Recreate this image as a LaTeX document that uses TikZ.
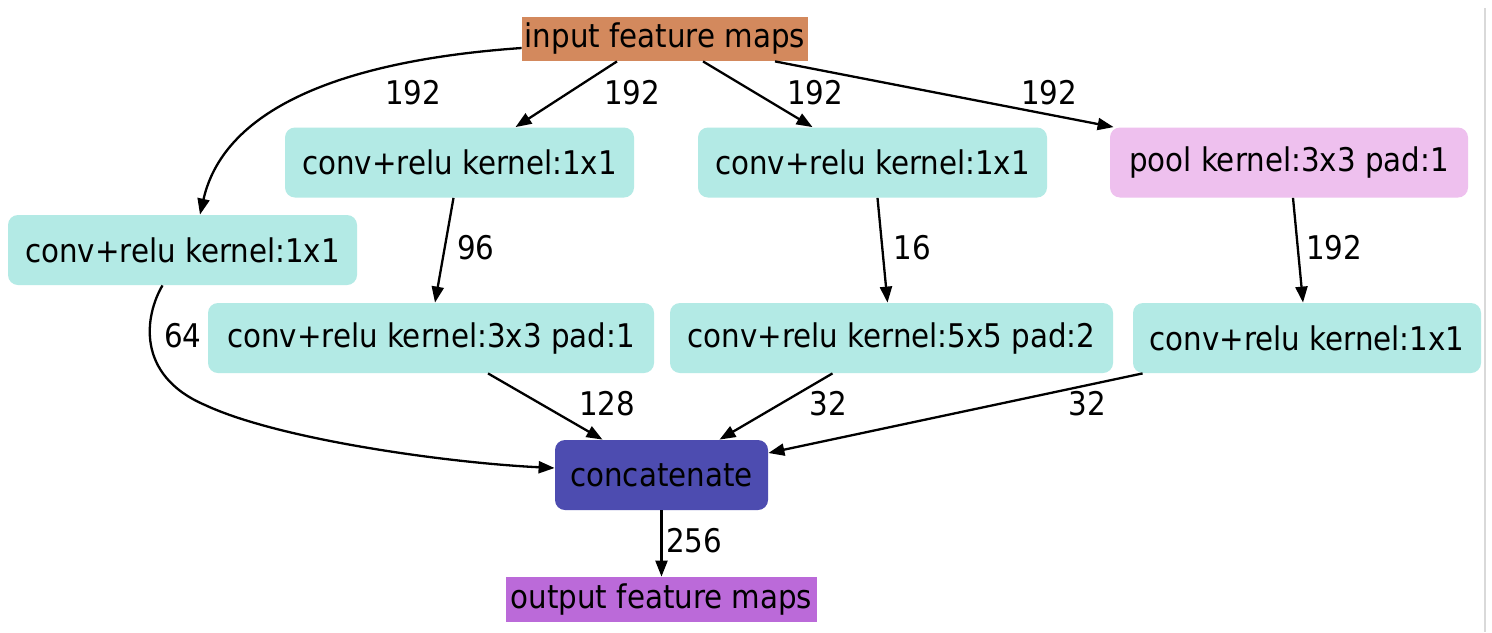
\documentclass[tikz,border=0pt]{standalone}
\usepackage{fontspec}
\setmainfont{DejaVu Sans Condensed}
\usetikzlibrary{arrows.meta,calc}
\definecolor{inorange}{RGB}{211,137,93}
\definecolor{tealbox}{RGB}{179,234,229}
\definecolor{pinkbox}{RGB}{238,192,238}
\definecolor{catblue}{RGB}{77,76,176}
\definecolor{outpurple}{RGB}{187,106,217}
\begin{document}
\begin{tikzpicture}[x=0.5pt,y=-0.5pt,
  txt/.style={font=\fontsize{16.3}{19}\selectfont},
  box/.style={txt, inner sep=0pt, minimum height=35pt, rounded corners=5pt},
  flat/.style={txt, inner sep=0pt, minimum height=22pt},
  lbl/.style={txt, inner sep=0pt},
  arr/.style={-{Triangle[length=8pt,width=6pt]}, line width=1.15pt}]
\useasboundingbox (0,0) rectangle (1492,632);
\fill[white] (0,0) rectangle (1492,632);
\draw[gray!30, line width=1pt] (1485,8) -- (1485,632);

% nodes
\node[flat, fill=inorange, minimum width=143pt] (in) at (665,39) {input feature maps};
\node[box, fill=tealbox, minimum width=174.5pt] (c1) at (182.5,250) {conv+relu kernel:1x1};
\node[box, fill=tealbox, minimum width=174.5pt] (c2) at (459.5,162.5) {conv+relu kernel:1x1};
\node[box, fill=tealbox, minimum width=174.5pt] (c3) at (872.5,162.5) {conv+relu kernel:1x1};
\node[box, fill=pinkbox, minimum width=179pt] (pool) at (1289,162.5) {pool kernel:3x3 pad:1};
\node[box, fill=tealbox, minimum width=223pt] (c33) at (431,338) {conv+relu kernel:3x3 pad:1};
\node[box, fill=tealbox, minimum width=221.5pt] (c55) at (891.5,338) {conv+relu kernel:5x5 pad:2};
\node[box, fill=tealbox, minimum width=174pt] (cp) at (1307,338) {conv+relu kernel:1x1};
\node[box, fill=catblue, minimum width=106.5pt] (cat) at (661.5,475) {concatenate};
\node[flat, fill=outpurple, minimum width=155.5pt, minimum height=22.5pt] (out) at (661.5,599.5) {output feature maps};

% edges from input
\draw[arr] ($(in.west)+(0,9)$) .. controls (350,60) and (225,105) .. ($(c1.north)+(17.5,0)$)
  node[lbl] (l1) at (413,93) {192};
\draw[arr] ($(in.south)+(-48,0)$) -- ($(c2.north)+(56,0)$) node[lbl] (l2) at (632,93) {192};
\draw[arr] ($(in.south)+(38,0)$) -- ($(c3.north)+(-60,0)$) node[lbl] (l3) at (815,93) {192};
\draw[arr] ($(in.south)+(110,0)$) -- ($(pool.north west)+(4,0)$) node[lbl] (l4) at (1049,93) {192};

% second level
\draw[arr] ($(c2.south)+(-6,0)$) -- ($(c33.north)+(4,0)$) node[lbl] (l5) at (476,248) {96};
\draw[arr] ($(c3.south)+(5,0)$) -- ($(c55.north)+(-4,0)$) node[lbl] (l6) at (912,248) {16};
\draw[arr] ($(pool.south)+(4,0)$) -- ($(cp.north)+(-4,0)$) node[lbl] (l7) at (1334,248) {192};

% into concatenate
\draw[arr] ($(c1.south)+(-20,0)$) .. controls (145,315) and (135,375) .. (205,405)
  .. controls (280,440) and (450,463) .. ($(cat.west)+(0,-7)$)
  node[lbl] (l8) at (183,336) {64};
\draw[arr] ($(c33.south)+(57,0)$) -- ($(cat.north)+(-59,0)$) node[lbl] (l9) at (607,404) {128};
\draw[arr] ($(c55.south)+(-59,0)$) -- ($(cat.north)+(58,0)$) node[lbl] (l10) at (828,404) {32};
\draw[arr] ($(cp.south west)+(10,0)$) -- ($(cat.east)+(0,-22)$) node[lbl] (l11) at (1087,404) {32};

% output
\draw[arr] (cat.south) -- (out.north) node[lbl] (l12) at (694,541) {256};
\end{tikzpicture}
\end{document}
